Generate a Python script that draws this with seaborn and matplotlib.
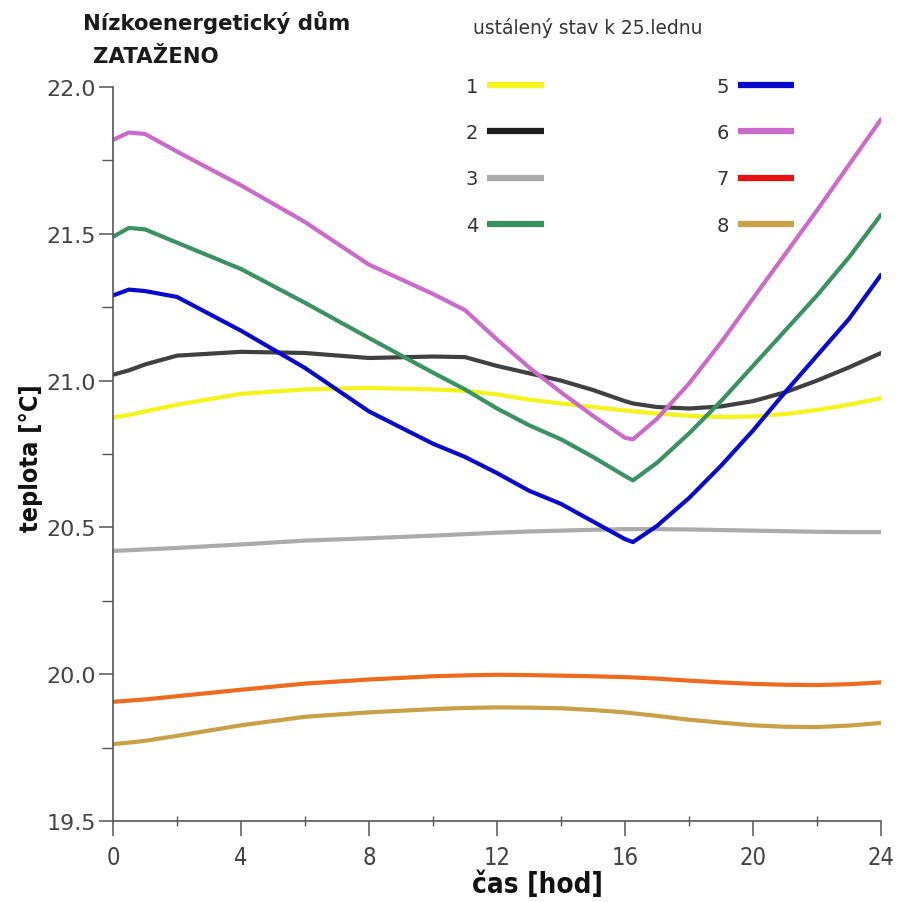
import numpy as np
import pandas as pd
import matplotlib
matplotlib.use("Agg")
import matplotlib.pyplot as plt
from matplotlib.lines import Line2D
from matplotlib.ticker import MultipleLocator
import seaborn as sns

# ---------------- data ----------------
hours = [0, 0.5, 1, 2, 4, 6, 8, 10, 11, 12, 13, 14, 15, 16, 16.25, 17, 18, 19, 20, 21, 22, 23, 24]

s1 = [20.875, 20.883, 20.895, 20.918, 20.955, 20.970, 20.975, 20.970, 20.965, 20.953, 20.935, 20.922,
      20.910, 20.898, 20.895, 20.888, 20.880, 20.876, 20.878, 20.886, 20.900, 20.918, 20.940]
s2 = [21.020, 21.035, 21.055, 21.085, 21.098, 21.094, 21.077, 21.082, 21.080, 21.050, 21.025, 21.000,
      20.968, 20.930, 20.922, 20.910, 20.905, 20.912, 20.930, 20.960, 21.000, 21.045, 21.094]
s3 = [20.420, 20.422, 20.425, 20.430, 20.442, 20.455, 20.463, 20.472, 20.477, 20.482, 20.486, 20.489,
      20.492, 20.494, 20.494, 20.494, 20.493, 20.491, 20.489, 20.487, 20.485, 20.484, 20.484]
s4 = [21.490, 21.520, 21.515, 21.470, 21.380, 21.265, 21.145, 21.027, 20.970, 20.905, 20.848, 20.800,
      20.740, 20.675, 20.660, 20.720, 20.820, 20.930, 21.050, 21.170, 21.290, 21.420, 21.565]
s5 = [21.290, 21.310, 21.305, 21.285, 21.170, 21.043, 20.895, 20.785, 20.740, 20.685, 20.625, 20.580,
      20.520, 20.460, 20.450, 20.505, 20.600, 20.710, 20.830, 20.960, 21.085, 21.210, 21.360]
s6 = [21.820, 21.845, 21.840, 21.780, 21.665, 21.540, 21.395, 21.295, 21.240, 21.140, 21.045, 20.960,
      20.880, 20.805, 20.800, 20.870, 20.990, 21.130, 21.280, 21.430, 21.580, 21.735, 21.890]
s7 = [19.906, 19.910, 19.914, 19.925, 19.947, 19.968, 19.982, 19.993, 19.996, 19.998, 19.997, 19.995,
      19.993, 19.990, 19.989, 19.985, 19.978, 19.972, 19.967, 19.964, 19.963, 19.966, 19.972]
s8 = [19.762, 19.767, 19.773, 19.790, 19.826, 19.855, 19.870, 19.881, 19.885, 19.887, 19.886, 19.884,
      19.878, 19.870, 19.867, 19.858, 19.845, 19.835, 19.826, 19.821, 19.820, 19.825, 19.834]

series_names = ["1", "2", "3", "4", "5", "6", "7", "8"]
series_values = [s1, s2, s3, s4, s5, s6, s7, s8]

x_ticks = [0, 4, 8, 12, 16, 20, 24]
y_ticks = [19.5, 20.0, 20.5, 21.0, 21.5, 22.0]

title_line1 = "Nízkoenergetický dům"
title_line2 = "ZATAŽENO"
subtitle = "ustálený stav k 25.lednu"
x_label = "čas [hod]"
y_label = "teplota [°C]"

# ---------------- style ----------------
line_colors = {"1": "#F4F41A", "2": "#404040", "3": "#ABABAB", "4": "#3A9162",
               "5": "#0A0ACF", "6": "#CC6ACC", "7": "#EE6A1E", "8": "#C9A045"}
legend_colors = {"1": "#F4F41A", "2": "#1E1E1E", "3": "#ABABAB", "4": "#3A9162",
                 "5": "#0A0ACF", "6": "#CC6ACC", "7": "#E81010", "8": "#C9A045"}

sns.set_style("white")
plt.rcParams["font.family"] = ["DejaVu Sans"]

df = pd.concat(
    [pd.DataFrame({"hod": hours, "teplota": vals, "serie": name})
     for name, vals in zip(series_names, series_values)],
    ignore_index=True,
)

fig = plt.figure(figsize=(9.04, 9.03), dpi=100)
ax = fig.add_axes([113 / 904, 1 - 822 / 903, (881 - 113) / 904, (822 - 88) / 903])

sns.lineplot(data=df, x="hod", y="teplota", hue="serie", palette=line_colors,
             hue_order=series_names, linewidth=3.0, legend=False, ax=ax, sort=False)

ax.set_xlim(0, 24)
ax.set_ylim(19.5, 22.0)
ax.set_xticks(x_ticks)
ax.set_yticks(y_ticks)
ax.set_yticklabels([f"{v:.1f}" for v in y_ticks])
ax.xaxis.set_minor_locator(MultipleLocator(2))
ax.yaxis.set_minor_locator(MultipleLocator(0.25))

for side in ["top", "right"]:
    ax.spines[side].set_visible(False)
for side in ["left", "bottom"]:
    ax.spines[side].set_color("#555555")
    ax.spines[side].set_linewidth(1.2)

ax.tick_params(axis="both", which="both", bottom=True, left=True, top=False, right=False)
ax.tick_params(axis="y", which="major", direction="out", length=10, width=1.1, color="#555555",
               labelsize=16, labelcolor="#444444", pad=2)
ax.tick_params(axis="y", which="minor", direction="out", length=8, width=1.0, color="#555555")
ax.tick_params(axis="x", which="major", direction="out", length=11, width=1.1, color="#555555",
               labelsize=17, labelcolor="#444444", pad=6)
ax.tick_params(axis="x", which="minor", direction="inout", length=7, width=1.0, color="#555555")
for lab in ax.get_xticklabels():
    lab.set_fontstretch("condensed")

ax.set_xlabel(x_label, fontsize=20, fontweight="bold", fontstretch="condensed",
              color="#111111", labelpad=0)
ax.set_ylabel(y_label, fontsize=18, fontweight="bold", fontstretch="condensed",
              color="#111111", labelpad=4)
ax.xaxis.label.set_va("center")
ax.yaxis.label.set_va("center")
ax.xaxis.set_label_coords((537 - 113) / (881 - 113), -(885 - 822) / (822 - 88))
ax.yaxis.set_label_coords(-(113 - 31) / (881 - 113), (822 - 458) / (822 - 88))

# titles
fig.text(83 / 904, 1 - 22 / 903, title_line1, fontsize=15.3, fontweight="bold",
         color="#1a1a1a", ha="left", va="center")
fig.text(93 / 904, 1 - 57 / 903, title_line2, fontsize=15.3, fontweight="bold",
         color="#1a1a1a", ha="left", va="center")
fig.text(473 / 904, 1 - 28 / 903, subtitle, fontsize=13.4, color="#333333",
         ha="left", va="center")

# legend
handles = [Line2D([0], [0], color=legend_colors[n], linewidth=4.5, solid_capstyle="butt")
           for n in series_names]
leg = ax.legend(handles, series_names, ncol=2, markerfirst=False, frameon=False,
                loc="upper left", bbox_to_anchor=(466 / 904, 1 - 78 / 903),
                bbox_transform=fig.transFigure, borderaxespad=0, borderpad=0,
                fontsize=14, handlelength=2.9, handletextpad=0.45,
                columnspacing=8.9, labelspacing=1.4)
for t in leg.get_texts():
    t.set_color("#333333")

fig.savefig("out.png", dpi=100, facecolor="white")
